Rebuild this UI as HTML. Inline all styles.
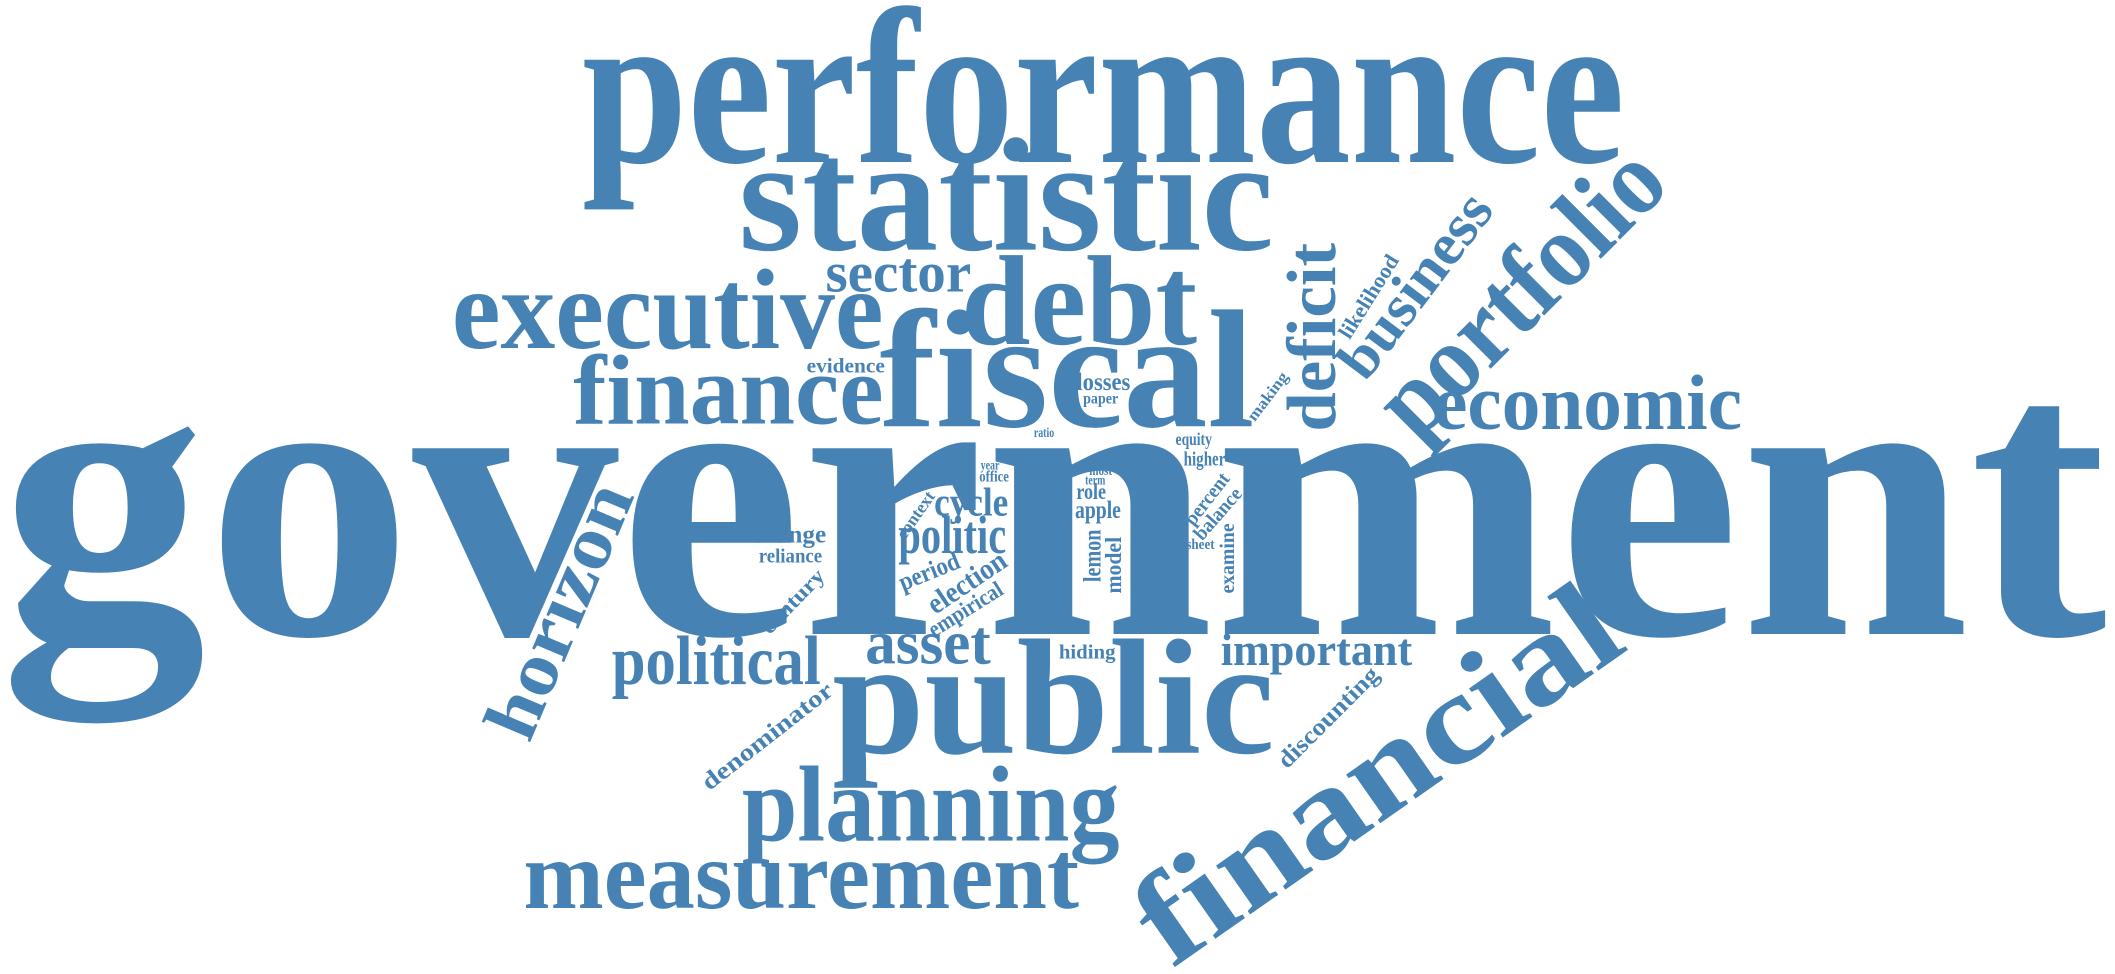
<!DOCTYPE html>
<html><head><meta charset="utf-8"><style>
html,body{margin:0;padding:0;background:#fff;}
svg{display:block}
text{font-family:"Liberation Serif",serif;font-weight:bold;fill:#4682b4;}
</style></head><body>
<svg width="2115" height="974" viewBox="0 0 1568 722" xmlns="http://www.w3.org/2000/svg">
<g text-anchor="middle">
<text x="781" y="470" font-size="300" textLength="1562" lengthAdjust="spacingAndGlyphs">government</text>
<text x="818" y="120" font-size="165" textLength="773" lengthAdjust="spacingAndGlyphs">performance</text>
<text x="746" y="185" font-size="120" textLength="397" lengthAdjust="spacingAndGlyphs">statistic</text>
<text x="666" y="216" font-size="42" textLength="108" lengthAdjust="spacingAndGlyphs">sector</text>
<text x="800" y="255" font-size="95" textLength="175" lengthAdjust="spacingAndGlyphs">debt</text>
<text x="495" y="258" font-size="85" textLength="320" lengthAdjust="spacingAndGlyphs">executive</text>
<text x="791" y="316" font-size="125" textLength="278" lengthAdjust="spacingAndGlyphs">fiscal</text>
<text x="540" y="314" font-size="74" textLength="230" lengthAdjust="spacingAndGlyphs">finance</text>
<text x="627" y="276" font-size="16" textLength="58" lengthAdjust="spacingAndGlyphs">evidence</text>
<text x="818" y="289" font-size="19" textLength="40" lengthAdjust="spacingAndGlyphs">losses</text>
<text x="816" y="299" font-size="12" textLength="26" lengthAdjust="spacingAndGlyphs">paper</text>
<text x="1177" y="318" font-size="58" textLength="229" lengthAdjust="spacingAndGlyphs">economic</text>
<text x="774" y="324" font-size="10" textLength="15" lengthAdjust="spacingAndGlyphs">ratio</text>
<text x="885" y="330" font-size="13" textLength="27" lengthAdjust="spacingAndGlyphs">equity</text>
<text x="893" y="345" font-size="15" textLength="31" lengthAdjust="spacingAndGlyphs">higher</text>
<text x="734" y="348" font-size="10" textLength="14" lengthAdjust="spacingAndGlyphs">year</text>
<text x="737" y="357" font-size="12" textLength="22" lengthAdjust="spacingAndGlyphs">office</text>
<text x="816" y="352" font-size="10" textLength="17" lengthAdjust="spacingAndGlyphs">most</text>
<text x="812" y="359" font-size="10" textLength="15" lengthAdjust="spacingAndGlyphs">term</text>
<text x="809" y="370" font-size="17" textLength="22" lengthAdjust="spacingAndGlyphs">role</text>
<text x="814" y="384" font-size="19" textLength="34" lengthAdjust="spacingAndGlyphs">apple</text>
<text x="720" y="382" font-size="30" textLength="55" lengthAdjust="spacingAndGlyphs">cycle</text>
<text x="706" y="410" font-size="40" textLength="80" lengthAdjust="spacingAndGlyphs">politic</text>
<text x="890" y="407" font-size="11" textLength="21" lengthAdjust="spacingAndGlyphs">sheet</text>
<text x="585" y="402" font-size="19" textLength="55" lengthAdjust="spacingAndGlyphs">orange</text>
<text x="586" y="417" font-size="15" textLength="47" lengthAdjust="spacingAndGlyphs">reliance</text>
<text x="531" y="507" font-size="52" textLength="155" lengthAdjust="spacingAndGlyphs">political</text>
<text x="688" y="492" font-size="46" textLength="93" lengthAdjust="spacingAndGlyphs">asset</text>
<text x="806" y="488" font-size="15" textLength="42" lengthAdjust="spacingAndGlyphs">hiding</text>
<text x="976" y="493" font-size="34" textLength="142" lengthAdjust="spacingAndGlyphs">important</text>
<text x="781" y="558" font-size="122" textLength="328" lengthAdjust="spacingAndGlyphs">public</text>
<text x="690" y="623" font-size="80" textLength="280" lengthAdjust="spacingAndGlyphs">planning</text>
<text x="594" y="673" font-size="72" textLength="412" lengthAdjust="spacingAndGlyphs">measurement</text>
</g>
<g text-anchor="middle">
<text transform="translate(974,250) rotate(-90)" dy="0.3em" font-size="52" textLength="140" lengthAdjust="spacingAndGlyphs">deficit</text>
<text transform="translate(1050,212) rotate(-53)" dy="0.3em" font-size="44" textLength="160" lengthAdjust="spacingAndGlyphs">business</text>
<text transform="translate(1015,220) rotate(-58)" dy="0.3em" font-size="16" textLength="70" lengthAdjust="spacingAndGlyphs">likelihood</text>
<text transform="translate(1131,220) rotate(-45)" dy="0.25em" font-size="78" textLength="268" lengthAdjust="spacingAndGlyphs">portfolio</text>
<text transform="translate(940,294) rotate(-53)" dy="0.3em" font-size="12" textLength="42" lengthAdjust="spacingAndGlyphs">making</text>
<text transform="translate(416,453) rotate(-67)" dy="0.3em" font-size="56" textLength="200" lengthAdjust="spacingAndGlyphs">horizon</text>
<text transform="translate(588,446) rotate(-46)" dy="0.3em" font-size="16" textLength="60" lengthAdjust="spacingAndGlyphs">century</text>
<text transform="translate(569,546) rotate(-38)" dy="0.3em" font-size="18" textLength="118" lengthAdjust="spacingAndGlyphs">denominator</text>
<text transform="translate(985,532) rotate(-45)" dy="0.3em" font-size="18" textLength="98" lengthAdjust="spacingAndGlyphs">discounting</text>
<text transform="translate(1022,576) rotate(-35)" dy="0.3em" font-size="96" textLength="415" lengthAdjust="spacingAndGlyphs">financial</text>
<text transform="translate(679,382) rotate(-55)" dy="0.3em" font-size="13" textLength="40" lengthAdjust="spacingAndGlyphs">context</text>
<text transform="translate(689,424) rotate(-22)" dy="0.3em" font-size="19" textLength="47" lengthAdjust="spacingAndGlyphs">period</text>
<text transform="translate(717,432) rotate(-34)" dy="0.3em" font-size="22" textLength="66" lengthAdjust="spacingAndGlyphs">election</text>
<text transform="translate(716,452) rotate(-32)" dy="0.3em" font-size="17" textLength="62" lengthAdjust="spacingAndGlyphs">empirical</text>
<text transform="translate(810,412) rotate(-90)" dy="0.3em" font-size="19" textLength="39" lengthAdjust="spacingAndGlyphs">lemon</text>
<text transform="translate(826,419) rotate(-90)" dy="0.3em" font-size="17" textLength="42" lengthAdjust="spacingAndGlyphs">model</text>
<text transform="translate(895,370) rotate(-52)" dy="0.3em" font-size="15" textLength="45" lengthAdjust="spacingAndGlyphs">percent</text>
<text transform="translate(903,381) rotate(-49)" dy="0.3em" font-size="15" textLength="46" lengthAdjust="spacingAndGlyphs">balance</text>
<text transform="translate(910,414) rotate(-90)" dy="0.3em" font-size="16" textLength="52" lengthAdjust="spacingAndGlyphs">examine</text>
</g>
</svg>
</body></html>
